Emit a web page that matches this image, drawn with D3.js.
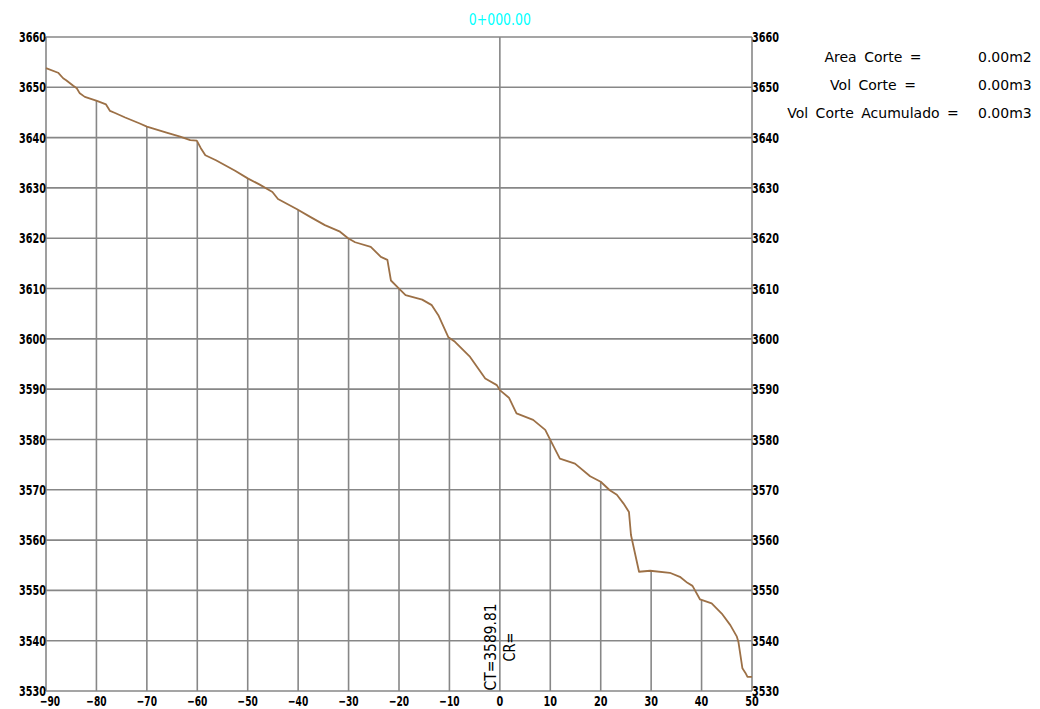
<!DOCTYPE html>
<html><head><meta charset="utf-8">
<script src="https://cdn.jsdelivr.net/npm/d3@7"></script>
<style>
body{margin:0;background:#fff;}
svg{display:block;}
.tick-lbl{font-family:"DejaVu Sans",sans-serif;font-stretch:condensed;font-weight:bold;font-size:14px;fill:#000;}
.narrow{font-family:"DejaVu Sans",sans-serif;font-stretch:condensed;}
.info{font-family:"DejaVu Sans",sans-serif;font-size:14px;word-spacing:3px;fill:#000;}
</style></head>
<body>
<svg id="c" width="1040" height="709"></svg>
<script>
// ---- data ----
const stationLabel = "0+000.00";
const xTicks = [-90,-80,-70,-60,-50,-40,-30,-20,-10,0,10,20,30,40,50];
const yTicks = [3530,3540,3550,3560,3570,3580,3590,3600,3610,3620,3630,3640,3650,3660];
const terrainX = [-90,-87.6,-86.6,-86.0,-84.6,-83.9,-83.3,-82.3,-79.9,-78.1,-77.3,-76.3,-74.3,-71.4,-70,-66.1,-63.4,-61.4,-60.1,-59.3,-58.4,-56.3,-52.5,-50.0,-47.7,-45.1,-44.0,-40.3,-37.7,-34.7,-31.7,-30.1,-28.7,-25.6,-23.6,-22.3,-21.6,-19.8,-18.7,-15.4,-13.5,-12.2,-10.2,-8.9,-5.9,-2.9,-0.6,0,1.8,3.3,6.6,9.0,10.0,11.9,14.9,17.9,20.0,21.8,23.2,24.5,25.6,26.0,27.6,29.8,33.7,35.7,37.2,38.2,39.7,42.0,44.0,45.7,47.0,47.3,48.1,48.7,49.1,50];
const terrainY = [3653.8,3652.9,3651.8,3651.4,3650.3,3649.8,3648.8,3648.1,3647.3,3646.6,3645.3,3644.9,3644.0,3642.8,3642.2,3641.0,3640.2,3639.5,3639.4,3637.9,3636.5,3635.5,3633.4,3631.9,3630.7,3629.2,3627.8,3625.8,3624.3,3622.6,3621.3,3620.0,3619.2,3618.3,3616.3,3615.7,3611.6,3609.8,3608.7,3607.8,3606.7,3604.7,3600.3,3599.4,3596.4,3592.1,3590.8,3589.8,3588.3,3585.2,3583.9,3581.9,3579.9,3576.2,3575.2,3572.7,3571.6,3569.9,3569.0,3567.3,3565.6,3561.0,3553.7,3553.9,3553.5,3552.7,3551.5,3550.9,3548.2,3547.4,3545.4,3543.1,3540.8,3539.8,3534.5,3533.6,3532.8,3532.8];
const ctLabel = "CT=3589.81";
const crLabel = "CR=";
const infoLabels = ["Area Corte =","Vol Corte =","Vol Corte Acumulado ="];
const infoValues = ["0.00m2","0.00m3","0.00m3"];

// ---- drawing ----
const svg = d3.select("#c");
const x = d3.scaleLinear().domain([-90,50]).range([46,752]);
const y = d3.scaleLinear().domain([3530,3660]).range([691,37]);
const gridColor = "#878787";
const terrainPts = terrainX.map((v,i)=>[v,terrainY[i]]);
const groundAt = v => {
  for(let i=0;i<terrainX.length-1;i++){
    if(v>=terrainX[i] && v<=terrainX[i+1]){
      const t=(v-terrainX[i])/(terrainX[i+1]-terrainX[i]);
      return terrainY[i]+t*(terrainY[i+1]-terrainY[i]);
    }
  }
  return terrainY[terrainY.length-1];
};

// horizontal grid
svg.append("g").selectAll("line").data(yTicks).join("line")
  .attr("x1",x(-90)).attr("x2",x(50))
  .attr("y1",d=>y(d)).attr("y2",d=>y(d))
  .attr("stroke",gridColor).attr("stroke-width",1.6);

// vertical grid: borders and centre full height, others up to ground
svg.append("g").selectAll("line").data(xTicks).join("line")
  .attr("x1",d=>x(d)).attr("x2",d=>x(d))
  .attr("y1",y(3530))
  .attr("y2",d=> (d===-90||d===50||d===0) ? y(3660) : y(groundAt(d)))
  .attr("stroke",gridColor).attr("stroke-width",1.6);

// terrain
svg.append("path").datum(terrainPts)
  .attr("d",d3.line().x(d=>x(d[0])).y(d=>y(d[1])))
  .attr("fill","none").attr("stroke","#9c7046").attr("stroke-width",1.8)
  .attr("stroke-linejoin","round");

const fit = s => 6.75*s.length;

// y labels left and right
svg.append("g").selectAll("text").data(yTicks).join("text")
  .attr("class","tick-lbl").attr("x",x(-90)).attr("y",d=>y(d)).attr("dy","0.36em")
  .attr("text-anchor","end").attr("textLength",d=>fit(String(d))).attr("lengthAdjust","spacingAndGlyphs").text(d=>d);
svg.append("g").selectAll("text").data(yTicks).join("text")
  .attr("class","tick-lbl").attr("x",x(50)).attr("y",d=>y(d)).attr("dy","0.36em")
  .attr("text-anchor","start").attr("textLength",d=>fit(String(d))).attr("lengthAdjust","spacingAndGlyphs").text(d=>d);

// x labels
const xt = d => d<0 ? "\u2212"+Math.abs(d) : String(d);
svg.append("g").selectAll("text").data(xTicks).join("text")
  .attr("class","tick-lbl").attr("x",d=>x(d)+(d===-90?4:0)).attr("y",706)
  .attr("text-anchor","middle").attr("textLength",d=>fit(xt(d))).attr("lengthAdjust","spacingAndGlyphs").text(xt);

// station label
svg.append("text").attr("class","narrow").attr("x",x(0)).attr("y",25).attr("text-anchor","middle")
  .attr("textLength",62).attr("lengthAdjust","spacingAndGlyphs")
  .style("font-size","16px").attr("fill","#00ffff").text(stationLabel);

// CT / CR rotated (centred ~8.75 m above the base)
const labelMid = y(3538.75);
svg.append("text").attr("class","narrow").attr("transform",`translate(${x(0)-4},${labelMid}) rotate(-90)`)
  .attr("text-anchor","middle").attr("textLength",87).attr("lengthAdjust","spacingAndGlyphs")
  .style("font-size","15px").text(ctLabel);
svg.append("text").attr("class","narrow").attr("transform",`translate(${x(0)+15},${labelMid}) rotate(-90)`)
  .attr("text-anchor","middle").attr("textLength",29).attr("lengthAdjust","spacingAndGlyphs")
  .style("font-size","15px").text(crLabel);

// info block
const infoG = svg.append("g");
infoG.selectAll("text.l").data(infoLabels).join("text").attr("class","info l")
  .attr("x",873).attr("y",(d,i)=>62+i*28).attr("text-anchor","middle").text(d=>d);
infoG.selectAll("text.v").data(infoValues).join("text").attr("class","info v")
  .attr("x",978).attr("y",(d,i)=>62+i*28).attr("text-anchor","start").text(d=>d);
</script>
</body></html>
